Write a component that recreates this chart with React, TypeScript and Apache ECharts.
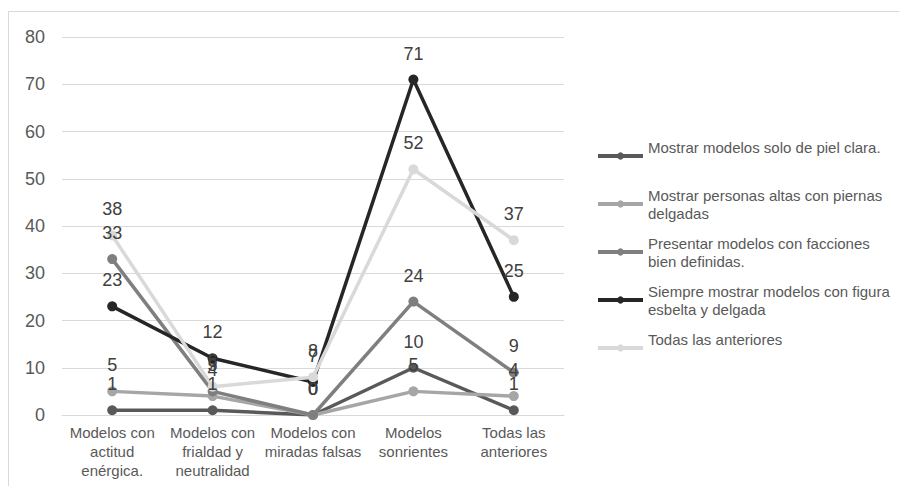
import React, { useEffect, useRef } from "react";
import * as echarts from "echarts";

const categories = [
  "Modelos con\nactitud\nenérgica.",
  "Modelos con\nfrialdad y\nneutralidad",
  "Modelos con\nmiradas falsas",
  "Modelos\nsonrientes",
  "Todas las\nanteriores",
];

const seriesNames = [
  "Mostrar modelos solo de piel clara.",
  "Mostrar personas altas con piernas delgadas",
  "Presentar modelos con facciones bien definidas.",
  "Siempre mostrar modelos con figura esbelta y delgada",
  "Todas las anteriores",
];

const legendLabels = [
  "Mostrar modelos solo de piel clara.\n ",
  "Mostrar personas altas con piernas\ndelgadas",
  "Presentar modelos con facciones\nbien definidas.",
  "Siempre mostrar modelos con figura\nesbelta y delgada",
  "Todas las anteriores\n ",
];

const pielClara = [1, 1, 0, 10, 1];
const personasAltas = [5, 4, 0, 5, 4];
const facciones = [33, 5, 0, 24, 9];
const figuraEsbelta = [23, 12, 7, 71, 25];
const todasAnteriores = [38, 6, 8, 52, 37];

const seriesValues = [pielClara, personasAltas, facciones, figuraEsbelta, todasAnteriores];
const seriesColors = ["#595959", "#a6a6a6", "#7f7f7f", "#262626", "#d9d9d9"];

const yMin = 0;
const yMax = 80;
const yInterval = 10;

const FONT = "Arial, 'Liberation Sans', sans-serif";

export default function App() {
  const ref = useRef<HTMLDivElement>(null);

  useEffect(() => {
    if (!ref.current) return;
    const chart = echarts.init(ref.current, null, { renderer: "svg" });
    chart.setOption({
      animation: false,
      backgroundColor: "#ffffff",
      textStyle: { fontFamily: FONT },
      graphic: [
        {
          type: "rect",
          shape: { x: 8.5, y: 11.5, width: 1200, height: 1200 },
          style: { fill: "none", stroke: "#d9d9d9", lineWidth: 1 },
          silent: true,
          z: -10,
        },
      ],
      grid: { left: 62, right: 335, top: 37, bottom: 71, containLabel: false },
      legend: {
        orient: "vertical",
        left: 596,
        top: 129,
        padding: 0,
        itemGap: -6,
        itemWidth: 45,
        itemHeight: 9,
        selectedMode: false,
        data: seriesNames,
        lineStyle: { width: 4 },
        formatter: (name: string) => legendLabels[seriesNames.indexOf(name)],
        textStyle: {
          fontFamily: FONT,
          fontSize: 15,
          color: "#595959",
          lineHeight: 18,
          padding: [18, 0, 0, 0],
        },
      },
      xAxis: {
        type: "category",
        data: categories,
        boundaryGap: true,
        axisLine: { lineStyle: { color: "#d9d9d9", width: 1 } },
        axisTick: { show: false },
        axisLabel: {
          interval: 0,
          fontFamily: FONT,
          fontSize: 15,
          lineHeight: 19,
          color: "#595959",
          margin: 8,
        },
      },
      yAxis: {
        type: "value",
        min: yMin,
        max: yMax,
        interval: yInterval,
        axisLine: { show: false },
        axisTick: { show: false },
        splitLine: { lineStyle: { color: "#d9d9d9", width: 1 } },
        axisLabel: { fontFamily: FONT, fontSize: 18, color: "#595959", margin: 17 },
      },
      series: seriesNames.map((name, i) => ({
        name,
        type: "line",
        data: seriesValues[i],
        color: seriesColors[i],
        symbol: "circle",
        symbolSize: 10,
        showAllSymbol: true,
        lineStyle: { width: 3.5, color: seriesColors[i] },
        itemStyle: { color: seriesColors[i] },
        label: {
          show: true,
          position: "top",
          distance: 12,
          fontFamily: FONT,
          fontSize: 18,
          color: "#404040",
        },
        labelLayout: { hideOverlap: false },
      })),
    });
    return () => chart.dispose();
  }, []);

  return (
    <div
      ref={ref}
      style={{ position: "absolute", left: 0, top: 0, width: 899, height: 486 }}
    />
  );
}
